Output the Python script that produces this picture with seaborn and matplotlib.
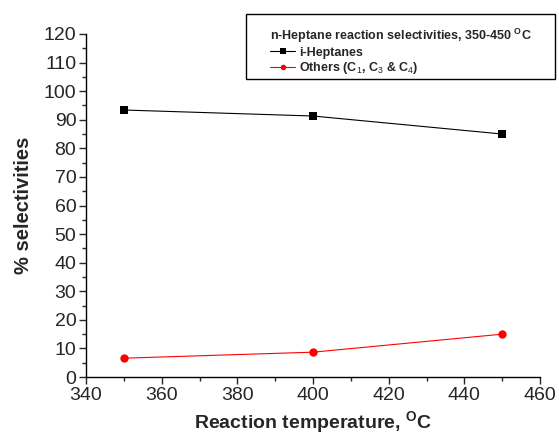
import matplotlib
matplotlib.use("Agg")
import matplotlib.pyplot as plt
from matplotlib.patches import Rectangle
from matplotlib.ticker import MultipleLocator
import seaborn as sns
import pandas as pd

# donnees
temperatures = [350, 400, 450]
i_heptanes = [93.4, 91.3, 85.0]
others = [6.6, 8.7, 15.0]
series_names = ["i-Heptanes", "Others (C$_1$, C$_3$ & C$_4$)"]
series_colors = ["black", "red"]
series_markers = ["s", "o"]

sns.set_style("ticks")
plt.rcParams["font.family"] = ["Liberation Sans", "DejaVu Sans"]
plt.rcParams["mathtext.fontset"] = "custom"
plt.rcParams["mathtext.rm"] = "Liberation Sans"
plt.rcParams["mathtext.bf"] = "Liberation Sans:bold"

df = pd.DataFrame(
    {
        "temperature": temperatures * 2,
        "selectivity": i_heptanes + others,
        "serie": [series_names[0]] * 3 + [series_names[1]] * 3,
    }
)

fig = plt.figure(figsize=(5.59, 4.41), dpi=100)
ax = fig.add_axes([0.154, 0.145, 0.812, 0.778])

sns.lineplot(
    data=df,
    x="temperature",
    y="selectivity",
    hue="serie",
    style="serie",
    palette=series_colors,
    markers=series_markers,
    dashes=False,
    markersize=6,
    markeredgewidth=0,
    linewidth=0.8,
    ax=ax,
)

ax.set_xlim(340, 460)
ax.set_ylim(0, 120)
ax.xaxis.set_major_locator(MultipleLocator(20))
ax.xaxis.set_minor_locator(MultipleLocator(10))
ax.yaxis.set_major_locator(MultipleLocator(10))
ax.yaxis.set_minor_locator(MultipleLocator(5))
ax.tick_params(axis="both", which="major", direction="out", length=5, width=1,
               labelsize=14, pad=2)
ax.tick_params(axis="both", which="minor", direction="out", length=3, width=1)
sns.despine(ax=ax)
for s in ["left", "bottom"]:
    ax.spines[s].set_linewidth(1)
    ax.spines[s].set_color("black")

ax.set_xlabel("Reaction temperature, $^{\\mathbf{O}}$C", fontsize=14,
              fontweight="bold", labelpad=4)
ax.set_ylabel("% selectivities", fontsize=14.5, fontweight="bold", labelpad=8)

handles, labels = ax.get_legend_handles_labels()
ax.get_legend().remove()
for h in handles:
    h.set_markersize(4)
    h.set_linewidth(0.8)

# cadre de la legende dessine a part
fig.patches.append(
    Rectangle((0.440, 0.821), 0.553, 0.147, transform=fig.transFigure,
              fill=False, edgecolor="black", linewidth=1, zorder=5)
)

leg = fig.legend(
    handles,
    labels,
    title="n-Heptane reaction selectivities, 350-450 $^{\\mathbf{O}}$C",
    loc="upper left",
    bbox_to_anchor=(0.472, 0.953),
    frameon=False,
    prop={"weight": "bold", "size": 9},
    title_fontproperties={"weight": "bold", "size": 9},
    handlelength=2.0,
    handletextpad=0.3,
    labelspacing=0.12,
    borderpad=0,
    alignment="left",
)

fig.savefig("out.png", dpi=100)
